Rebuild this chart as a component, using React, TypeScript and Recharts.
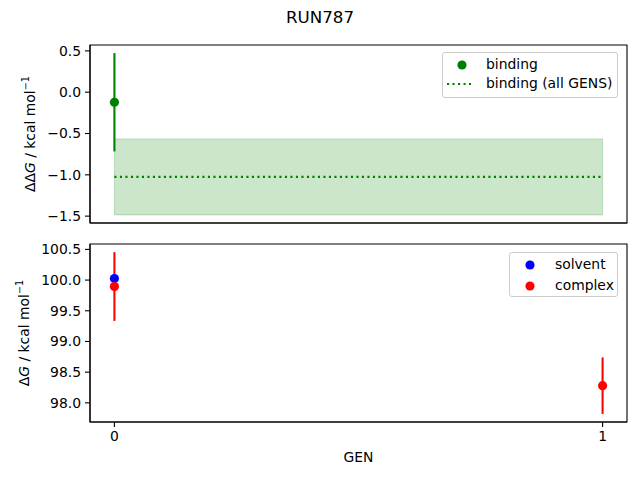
import React from "react";
import {
  ComposedChart,
  Scatter,
  Line,
  XAxis,
  YAxis,
  ErrorBar,
  ReferenceArea,
} from "recharts";

// values
const gens = [0, 1];
const bindingGens = [0];
const bindingValues = [-0.122];
const bindingErrors = [0.595];
const allGensMean = -1.025;
const allGensError = 0.46;

const solventGens = [0];
const solventValues = [100.026];
const complexGens = [0, 1];
const complexValues = [99.895, 98.28];
const complexErrors = [0.56, 0.46];

const xTicks = [0, 1];
const topTicks = [0.5, 0.0, -0.5, -1.0, -1.5];
const bottomTicks = [100.5, 100.0, 99.5, 99.0, 98.5, 98.0];

const xDomain = [-0.05, 1.05];
const topDomain = [-1.583, 0.571];
const bottomDomain = [97.688, 100.588];

const FONT = "'DejaVu Sans', sans-serif";
const GREEN = "#008000";
const BLUE = "#0000ff";
const RED = "#ff0000";
const R = 4.6;

const bindingData = bindingGens.map((g, i) => ({ gen: g, value: bindingValues[i], err: bindingErrors[i] }));
const allGensData = gens.map((g) => ({ gen: g, value: allGensMean }));
const solventData = solventGens.map((g, i) => ({ gen: g, value: solventValues[i] }));
const complexData = complexGens.map((g, i) => ({ gen: g, value: complexValues[i], err: complexErrors[i] }));

const fmt = (v: number) => v.toFixed(1).replace("-", "\u2212");
const tickStyle = { fontSize: 13.9, fill: "#000", fontFamily: FONT };
const axisStroke = { stroke: "#000", strokeWidth: 1.1 };

const dot = (color: string) => (props: any) =>
  <circle cx={props.cx} cy={props.cy} r={R} fill={color} />;

function YLabel({ prefix, x }: { prefix: string; x: number }) {
  return (props: any) => {
    const vb = props.viewBox;
    const cy = vb.y + vb.height / 2;
    return (
      <text
        x={x}
        y={cy}
        transform={`rotate(-90, ${x}, ${cy})`}
        textAnchor="middle"
        dominantBaseline="central"
        fontFamily={FONT}
        fontSize={13.9}
        fill="#000"
      >
        {prefix}
        <tspan fontStyle="italic">G</tspan>
        {" / kcal mol"}
        <tspan dy={-5} fontSize={9.7}>{"\u22121"}</tspan>
      </text>
    );
  };
}

function LegendBox({ left, top, width, height, items }: any) {
  return (
    <div
      style={{
        position: "absolute",
        left,
        top,
        width,
        height,
        border: "1px solid #cccccc",
        borderRadius: 3,
        background: "rgba(255,255,255,0.8)",
        boxSizing: "border-box",
        fontFamily: FONT,
        fontSize: 13.9,
      }}
    >
      {items.map((it: any) => (
        <div key={it.label} style={{ position: "absolute", left: 0, top: it.row - top - 10, height: 20, width: "100%" }}>
          <svg width={40} height={20} style={{ position: "absolute", left: 0, top: 0 }}>
            {it.kind === "dot" ? (
              <circle cx={it.hx - left} cy={10} r={R} fill={it.color} />
            ) : (
              <line x1={4} x2={28} y1={10} y2={10} stroke={it.color} strokeWidth={2.08} strokeDasharray="2.1 3.4" />
            )}
          </svg>
          <span style={{ position: "absolute", left: it.tx - left, top: 0, lineHeight: "19px", whiteSpace: "nowrap" }}>
            {it.label}
          </span>
        </div>
      ))}
    </div>
  );
}

export default function App() {
  return (
    <div style={{ position: "absolute", left: 0, top: 0, width: 640, height: 480, background: "#fff" }}>
      <div
        style={{
          position: "absolute",
          top: 7,
          left: 0,
          width: 640,
          textAlign: "center",
          fontFamily: FONT,
          fontSize: 16.7,
          lineHeight: "20px",
        }}
      >
        RUN787
      </div>

      <div style={{ position: "absolute", left: 0, top: 0 }}>
        <ComposedChart width={640} height={240} margin={{ top: 45, right: 13, bottom: 0, left: 0 }}>
          <XAxis
            dataKey="gen"
            type="number"
            domain={xDomain}
            ticks={xTicks}
            tick={false}
            tickSize={5}
            height={17}
            axisLine={axisStroke}
            tickLine={axisStroke}
            allowDataOverflow
          />
          <YAxis
            type="number"
            domain={topDomain}
            ticks={topTicks}
            tickFormatter={fmt}
            tick={tickStyle}
            tickSize={5}
            tickMargin={4}
            width={90}
            interval={0}
            axisLine={axisStroke}
            tickLine={axisStroke}
            allowDataOverflow
            label={{ content: YLabel({ prefix: "\u0394\u0394", x: 30 }) }}
          />
          <ReferenceArea
            x1={gens[0]}
            x2={gens[gens.length - 1]}
            y1={allGensMean - allGensError}
            y2={allGensMean + allGensError}
            fill={GREEN}
            fillOpacity={0.2}
            stroke={GREEN}
            strokeOpacity={0.2}
          />
          <Line
            data={allGensData}
            dataKey="value"
            stroke={GREEN}
            strokeWidth={2.08}
            strokeDasharray="2.1 3.4"
            dot={false}
            isAnimationActive={false}
          />
          <Scatter data={bindingData} dataKey="value" shape={dot(GREEN)} isAnimationActive={false}>
            <ErrorBar dataKey="err" direction="y" stroke={GREEN} strokeWidth={2.08} width={0} />
          </Scatter>
          <ReferenceArea
            x1={xDomain[0]}
            x2={xDomain[1]}
            y1={topDomain[0]}
            y2={topDomain[1]}
            fill="none"
            stroke="#000"
            strokeWidth={1.1}
          />
        </ComposedChart>
      </div>

      <div style={{ position: "absolute", left: 0, top: 240 }}>
        <ComposedChart width={640} height={240} margin={{ top: 4, right: 13, bottom: 0, left: 0 }}>
          <XAxis
            dataKey="gen"
            type="number"
            domain={xDomain}
            ticks={xTicks}
            tick={tickStyle}
            tickSize={5}
            tickMargin={4}
            height={58}
            axisLine={axisStroke}
            tickLine={axisStroke}
            allowDataOverflow
            label={{
              content: (props: any) => {
                const vb = props.viewBox;
                return (
                  <text
                    x={vb.x + vb.width / 2}
                    y={217}
                    textAnchor="middle"
                    dominantBaseline="central"
                    fontFamily={FONT}
                    fontSize={13.9}
                    fill="#000"
                  >
                    GEN
                  </text>
                );
              },
            }}
          />
          <YAxis
            type="number"
            domain={bottomDomain}
            ticks={bottomTicks}
            tickFormatter={fmt}
            tick={tickStyle}
            tickSize={5}
            tickMargin={4}
            width={90}
            interval={0}
            axisLine={axisStroke}
            tickLine={axisStroke}
            allowDataOverflow
            label={{ content: YLabel({ prefix: "\u0394", x: 24 }) }}
          />
          <Scatter data={solventData} dataKey="value" shape={dot(BLUE)} isAnimationActive={false} />
          <Scatter data={complexData} dataKey="value" shape={dot(RED)} isAnimationActive={false}>
            <ErrorBar dataKey="err" direction="y" stroke={RED} strokeWidth={2.08} width={0} />
          </Scatter>
          <ReferenceArea
            x1={xDomain[0]}
            x2={xDomain[1]}
            y1={bottomDomain[0]}
            y2={bottomDomain[1]}
            fill="none"
            stroke="#000"
            strokeWidth={1.1}
          />
        </ComposedChart>
      </div>

      <LegendBox
        left={442}
        top={52}
        width={176}
        height={46}
        items={[
          { label: "binding", kind: "dot", color: GREEN, row: 64, hx: 461, tx: 485 },
          { label: "binding (all GENS)", kind: "line", color: GREEN, row: 83, hx: 459, tx: 485 },
        ]}
      />
      <LegendBox
        left={509}
        top={252}
        width={109}
        height={45}
        items={[
          { label: "solvent", kind: "dot", color: BLUE, row: 264, hx: 529, tx: 554 },
          { label: "complex", kind: "dot", color: RED, row: 285, hx: 529, tx: 554 },
        ]}
      />
    </div>
  );
}
